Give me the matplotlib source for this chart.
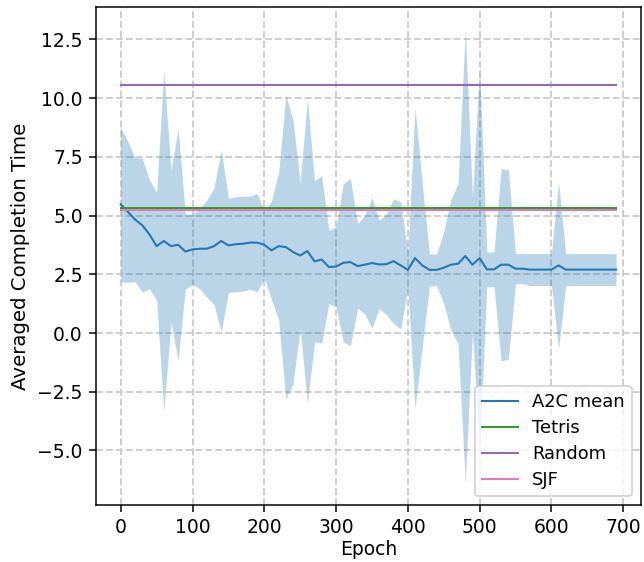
import matplotlib
matplotlib.use('Agg')
import matplotlib.pyplot as plt
import numpy as np

# 每10个epoch记录一次
epochs = list(range(0, 700, 10))

# A2C 平均完成时间
a2c_mean = [5.48, 5.16, 4.83, 4.59, 4.20, 3.70, 3.92, 3.70, 3.76, 3.47,
            3.56, 3.59, 3.59, 3.70, 3.92, 3.73, 3.78, 3.80, 3.85, 3.85,
            3.76, 3.52, 3.70, 3.66, 3.45, 3.30, 3.49, 3.05, 3.13, 2.81,
            2.83, 2.99, 3.02, 2.85, 2.91, 2.98, 2.92, 2.93, 3.06, 2.88,
            2.69, 3.19, 2.88, 2.69, 2.69, 2.78, 2.91, 2.95, 3.28, 2.91,
            3.19, 2.71, 2.71, 2.91, 2.91, 2.74, 2.74, 2.70, 2.70, 2.70,
            2.70, 2.88, 2.70, 2.70, 2.70, 2.70, 2.70, 2.70, 2.70, 2.70]

# 标准差
a2c_std = [3.29, 3.00, 2.64, 2.85, 2.32, 2.30, 7.27, 3.24, 4.92, 1.60,
           1.49, 1.71, 2.07, 2.49, 3.88, 2.00, 2.03, 2.02, 1.98, 2.10,
           1.45, 2.10, 3.13, 6.47, 5.62, 3.10, 6.50, 3.44, 3.56, 1.55,
           1.71, 3.37, 3.57, 1.80, 2.10, 2.77, 1.88, 2.15, 2.65, 2.72,
           0.78, 6.41, 3.50, 0.68, 0.68, 1.53, 2.78, 3.42, 9.65, 2.90,
           8.16, 0.74, 0.74, 4.10, 4.03, 0.64, 0.64, 0.68, 0.68, 0.68,
           0.68, 3.55, 0.68, 0.68, 0.68, 0.68, 0.68, 0.68, 0.68, 0.68]

# 基线
tetris = 5.33
random_policy = 10.57
sjf = 5.25


def draw():
    mean = np.array(a2c_mean)
    std = np.array(a2c_std)
    n = len(epochs)

    fig = plt.figure(figsize=(644 / 135, 562 / 135), dpi=135)
    ax = fig.add_axes([0.149, 0.101, 0.846, 0.887])
    ax.grid(linestyle='--', color='#cccccc', linewidth=1.0)
    ax.set_axisbelow(True)

    ax.fill_between(epochs, mean - std, mean + std, color='#1f77b4', alpha=0.3, linewidth=0)
    ax.plot(epochs, mean, color='#1f77b4', linewidth=1.1, label='A2C mean')
    ax.plot(epochs, [tetris] * n, color='#2ca02c', linewidth=1.1, label='Tetris')
    ax.plot(epochs, [random_policy] * n, color='#9467bd', linewidth=1.1, label='Random')
    ax.plot(epochs, [sjf] * n, color='#e377c2', linewidth=1.1, label='SJF')

    ax.set_xlabel('Epoch', labelpad=1.5)
    ax.set_ylabel('Averaged Completion Time', fontsize=10.5)
    ax.set_xticks([0, 100, 200, 300, 400, 500, 600, 700])
    ax.legend(loc='lower right', fontsize=9.5, labelspacing=0.45)

    fig.savefig('out.png', dpi=135)


if __name__ == '__main__':
    draw()
